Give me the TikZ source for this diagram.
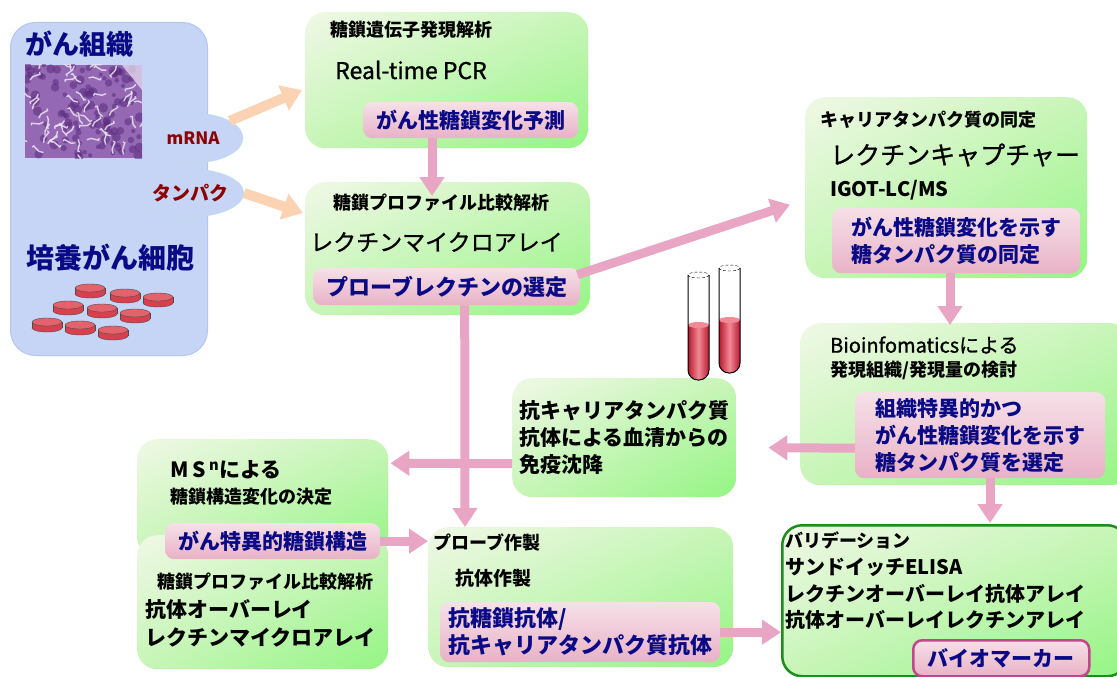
\documentclass[tikz,border=0pt]{standalone}
\usepackage{fontspec}
\setmainfont{Noto Sans CJK JP}
\newfontfamily\mdfont{Noto Sans CJK JP}[FakeBold=1]
\usetikzlibrary{arrows.meta,calc,shapes.geometric,shadings}
\definecolor{gTL}{HTML}{F0F8E6}
\definecolor{gMd}{HTML}{C8F5B8}
\definecolor{gBR}{HTML}{94F584}
\definecolor{pkT}{HTML}{F6E0E8}
\definecolor{pkB}{HTML}{E8B2C6}
\definecolor{arrP}{HTML}{E8A6C4}
\definecolor{arrO}{HTML}{FBD3B3}
\definecolor{navyT}{HTML}{0A0A86}
\definecolor{redT}{HTML}{8B0000}
\definecolor{panelB}{HTML}{C6D4F6}
\definecolor{panelE}{HTML}{B2C7EE}
\definecolor{ellE}{HTML}{B8E2E2}
\definecolor{valE}{HTML}{1E8C1E}
\definecolor{bmE}{HTML}{C2478A}
\definecolor{tisP}{HTML}{9568B4}
\definecolor{tisW}{HTML}{ECE6F4}
\definecolor{tisD}{HTML}{5A2C7E}
\definecolor{dishR}{HTML}{D8404F}
\definecolor{dishT}{HTML}{E4626C}
\definecolor{tubeD}{HTML}{B8182E}
\definecolor{tubeL}{HTML}{F28A96}
\begin{document}
\begin{tikzpicture}[x=1pt,y=-1pt,
  gbox/.style={rounded corners=20pt, anchor=north west, inner sep=0pt,
    upper left=gTL, upper right=gMd, lower left=gMd, lower right=gBR},
  pbox/.style={rounded corners=9pt, anchor=north west, inner sep=0pt,
    top color=pkT, bottom color=pkB, text=navyT, align=left,
    font=\bfseries\fontsize{21}{27}\selectfont},
  ttl/.style={anchor=west, inner sep=0pt, font=\bfseries\fontsize{18}{18}\selectfont},
  txt/.style={anchor=west, inner sep=0pt, align=left, font=\mdfont\fontsize{21}{27}\selectfont},
  btxt/.style={txt, font=\bfseries\fontsize{21}{27}\selectfont},
  parr/.style={draw=arrP, line width=9pt, -{Triangle[width=24pt,length=19pt]}},
  oarr/.style={draw=arrO, line width=10pt, -{Triangle[width=26pt,length=20pt]}}]
\useasboundingbox (0,0) rectangle (1117,677);
\clip (0,0) rectangle (1117,677);

% left panel: tissue and cultured cells
\node[anchor=north west, rounded corners=25pt, fill=panelB, draw=panelE, line width=1pt,
  minimum width=197pt, minimum height=333pt, inner sep=0pt] (tis) at (10,22) {};
\node[anchor=west, inner sep=0pt, text=navyT, font=\bfseries\fontsize{27}{27}\selectfont] (tisT) at (25,44) {がん組織};
\node[anchor=west, inner sep=0pt, text=navyT, font=\bfseries\fontsize{28}{28}\selectfont] (cellT) at (26,258) {培養がん細胞};
\begin{scope}
\clip (25,65) rectangle (142,158);
\fill[tisP] (25,65) rectangle (142,158);
\pgfmathsetseed{3}
\foreach \i in {1,...,110}{
  \pgfmathsetmacro{\px}{25+117*rnd}
  \pgfmathsetmacro{\py}{65+93*rnd}
  \pgfmathsetmacro{\pr}{2+3*rnd}
  \fill[tisD, opacity=.55] (\px,\py) circle[radius=\pr];
}
\foreach \i in {1,...,55}{
  \pgfmathsetmacro{\px}{25+117*rnd}
  \pgfmathsetmacro{\py}{65+93*rnd}
  \pgfmathsetmacro{\pa}{360*rnd}
  \draw[tisW, line width=1.4pt, line cap=round, opacity=.85] (\px,\py) .. controls +(\pa:6) and +(\pa+120:5) .. +(\pa+40:12);
}
\fill[tisW, opacity=.7] (122,65) -- (142,65) -- (142,90) -- cycle;
\end{scope}
\foreach \x/\y in {90/288,125/293,158/297,68/305,102/308,135/313,47/322,80/325,113/330}{
  \filldraw[fill=dishR, draw=black!70] (\x,\y+6) ellipse[x radius=15, y radius=4];
  \fill[dishR] (\x-15,\y) rectangle (\x+15,\y+6);
  \draw[black!70] (\x-15,\y) -- (\x-15,\y+6) (\x+15,\y) -- (\x+15,\y+6);
  \filldraw[fill=dishT, draw=black!70] (\x,\y) ellipse[x radius=15, y radius=4];
}
\node[ellipse, fill=panelB, draw=ellE, minimum width=100pt, minimum height=50pt, inner sep=0pt,
  text=redT, font=\bfseries\fontsize{17}{17}\selectfont] (mrna) at (193,138) {mRNA};
\node[ellipse, fill=panelB, draw=ellE, minimum width=98pt, minimum height=48pt, inner sep=0pt,
  text=redT, font=\bfseries\fontsize{19}{19}\selectfont] (prot) at (190,193) {タンパク};

% green boxes
\node[gbox, minimum width=283pt, minimum height=136pt] (gene) at (305,12) {};
\node[ttl] (geneT) at (330,30) {糖鎖遺伝子発現解析};
\node[txt, font=\mdfont\fontsize{23}{23}\selectfont] (geneM) at (335,70) {Real-time PCR};
\node[pbox, minimum width=215pt, minimum height=36pt] (gpk) at (363,102) {がん性糖鎖変化予測};

\node[gbox, minimum width=285pt, minimum height=133pt] (prof) at (305,182) {};
\node[ttl] (profT) at (333,203) {糖鎖プロファイル比較解析};
\node[txt, font=\mdfont\fontsize{23}{23}\selectfont] (profM) at (310,242) {レクチンマイクロアレイ};
\node[pbox, minimum width=267pt, minimum height=37pt, font=\bfseries\fontsize{22}{22}\selectfont] (ppk) at (313,268) {プローブレクチンの選定};

\node[gbox, minimum width=282pt, minimum height=181pt] (carr) at (805,97) {};
\node[ttl] (carrT) at (820,120) {キャリアタンパク質の同定};
\node[txt, font=\mdfont\fontsize{25}{25}\selectfont] (carrM) at (830,155) {レクチンキャプチャー};
\node[btxt, font=\bfseries\fontsize{20}{20}\selectfont] (carrL) at (830,190) {IGOT-LC/MS};
\node[pbox, minimum width=248pt, minimum height=65pt] (cpk) at (832,208) {がん性糖鎖変化を示す\\糖タンパク質の同定};

\node[gbox, minimum width=330pt, minimum height=162pt] (bio) at (800,323) {};
\node[txt, font=\mdfont\fontsize{20}{20}\selectfont] (bioT) at (830,345) {Bioinfomaticsによる};
\node[ttl] (bioS) at (830,370) {発現組織/発現量の検討};
\node[pbox, minimum width=250pt, minimum height=86pt] (bpk) at (855,392) {組織特異的かつ\\がん性糖鎖変化を示す\\糖タンパク質を選定};

\node[gbox, minimum width=224pt, minimum height=119pt, btxt, anchor=north west] (ip) at (512,378) {抗キャリアタンパク質\\抗体による血清からの\\免疫沈降};

\node[gbox, minimum width=251pt, minimum height=118pt] (ms) at (137,439) {};
\node[btxt, font=\bfseries\fontsize{21}{21}\selectfont] (msT) at (170,470) {M\,S\,\textsuperscript{n}による};
\node[ttl] (msS) at (170,497) {糖鎖構造変化の決定};
\node[gbox, minimum width=251pt, minimum height=134pt] (lov) at (137,535) {};
\node[ttl] (lovT) at (157,582) {糖鎖プロファイル比較解析};
\node[btxt, font=\bfseries\fontsize{21}{28}\selectfont] (lovM) at (145,623) {抗体オーバーレイ\\レクチンマイクロアレイ};
\node[pbox, minimum width=215pt, minimum height=36pt] (mspk) at (165,523) {がん特異的糖鎖構造};

\node[gbox, minimum width=305pt, minimum height=140pt] (probe) at (428,527) {};
\node[ttl] (probeT) at (433,542) {プローブ作製};
\node[btxt, font=\bfseries\fontsize{19}{19}\selectfont] (probeM) at (455,578) {抗体作製};
\node[pbox, minimum width=280pt, minimum height=60pt, font=\bfseries\fontsize{22}{27}\selectfont] (prpk) at (440,602) {抗糖鎖抗体/\\抗キャリアタンパク質抗体};

\node[gbox, draw=valE, line width=2.5pt, minimum width=345pt, minimum height=151pt] (val) at (781,524) {};
\node[ttl] (valT) at (785,540) {バリデーション};
\node[btxt, font=\bfseries\fontsize{20}{26.5}\selectfont] (valM) at (785,594) {サンドイッチELISA\\レクチンオーバーレイ抗体アレイ\\抗体オーバーレイレクチンアレイ};
\node[pbox, draw=bmE, line width=2.5pt, minimum width=176pt, minimum height=36pt, align=center] (bm) at (912,639) {バイオマーカー};

% test tubes
\foreach \tx/\tt/\tl in {688/275/325,719/268/320}{
  \fill[white] (\tx,\tt) {[rounded corners=10pt] -- (\tx,\tt+105) -- (\tx+21,\tt+105)} -- (\tx+21,\tt) -- cycle;
  \shade[left color=tubeD, right color=tubeD, middle color=tubeL] (\tx,\tl) {[rounded corners=10pt] -- (\tx,\tt+105) -- (\tx+21,\tt+105)} -- (\tx+21,\tl) -- cycle;
  \fill[tubeL] (\tx+10.5,\tl) ellipse[x radius=10.5, y radius=3];
  \draw[line width=1pt] (\tx,\tt) {[rounded corners=10pt] -- (\tx,\tt+105) -- (\tx+21,\tt+105)} -- (\tx+21,\tt);
  \draw[densely dashed] (\tx+10.5,\tt) ellipse[x radius=10.5, y radius=3];
}

% arrows
\draw[oarr] (mrna.25) -- ($(gene.west)+(-3,10)$);
\draw[oarr] (prot.east) -- ($(prof.north west)+(-2,31)$);
\draw[parr] ($(gpk.south west)+(69,0)$) -- ($(prof.north west)+(127,14)$);
\draw[parr] ($(ppk.east)+(-3,-12)$) -- ($(carr.west)+(-15,17)$);
\draw[parr] ($(ppk.south)+(18,0)$) -- ($(probe.north west)+(37,0)$);
\draw[parr] ($(cpk.south west)+(118,0)$) -- ($(bio.north west)+(150,2)$);
\draw[parr] ($(bpk.west)+(0,13)$) -- ($(ip.east)+(32,10)$);
\draw[parr] ($(ip.west)+(0,26)$) -- ($(ms.east)+(2,-35)$);
\draw[parr] (mspk.east) -- (probe.west |- mspk.east);
\draw[parr] (prpk.east) -- (val.west |- prpk.east);
\draw[parr] ($(bpk.south west)+(135,0)$) -- ($(val.north west)+(209,-1)$);
\end{tikzpicture}
\end{document}
